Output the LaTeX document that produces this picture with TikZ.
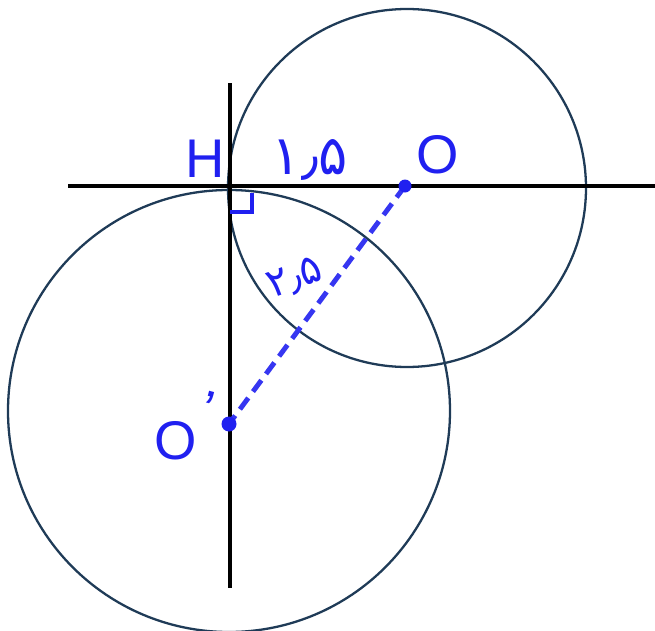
\documentclass[tikz,border=0pt]{standalone}
\usepackage{fontspec}
\setmainfont{Liberation Sans}
\newfontfamily\farsifont[Script=Arabic]{DejaVu Sans}
\usetikzlibrary{arrows.meta,positioning,calc}

\definecolor{circblue}{HTML}{1F3B57}
\definecolor{penblue}{HTML}{2020F0}

\begin{document}
\begin{tikzpicture}[
    axis/.style={line width=2.8pt, black},
    circ/.style={line width=1.3pt, circblue},
    seg/.style={line width=2.8pt, penblue!90, dash pattern=on 8pt off 4.5pt},
    lbl/.style={text=penblue, font=\fontsize{31}{33}\selectfont, inner sep=0pt},
    dot/.style={circle, fill=penblue, inner sep=0pt, minimum size=0.26cm}
]
    \useasboundingbox (0,0) rectangle (13.1,12.6);
    \clip (0,0) rectangle (13.1,12.6);
    % points
    \coordinate (H) at (4.6,8.88);
    \coordinate (O) at (8.1,8.88);
    \coordinate (Op) at (4.58,4.12);
    \coordinate (hl) at (1.36,8.88);
    \coordinate (hr) at (13.1,8.88);
    \coordinate (vt) at (4.6,10.94);
    \coordinate (vb) at (4.6,0.84);
    % circles
    \draw[circ] (8.14,8.84) circle (3.58);
    \draw[circ] (4.58,4.38) circle (4.42);
    % lines
    \draw[axis] (hl) -- (hr);
    \draw[axis] (vt) -- (vb);
    \draw[seg] (O) -- (Op);
    \draw[penblue, line width=2pt] ($(H)+(0,-0.52)$) -- ++(0.44,0) -- ++(0,0.38);
    \node[dot] (dotO) at (O) {};
    \node[dot, minimum size=0.3cm] (dotOp) at (Op) {};
    % labels
    \node[lbl] (labH) at (4.1,9.42) {H};
    \node[lbl] (labO) at (8.76,9.5) {O};
    \node[lbl] (labOp) at (3.72,4.1) {O\raisebox{0.6em}{\rotatebox{-15}{'}}};
    \node[lbl] (labOH) at (6.2,9.4) {\farsifont ۱٫۵};
    \node[lbl, font=\fontsize{23}{25}\selectfont, rotate=20] (labOOp) at (5.9,7.02) {\farsifont ۲٫۵};
\end{tikzpicture}
\end{document}
